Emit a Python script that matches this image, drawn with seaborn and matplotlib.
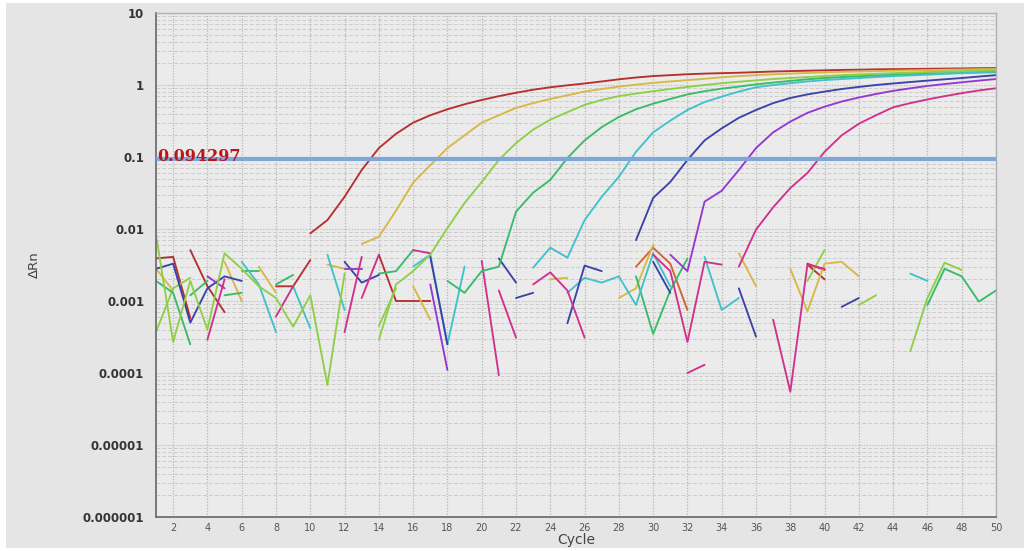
import numpy as np
import pandas as pd
import matplotlib
matplotlib.use("Agg")
import matplotlib.pyplot as plt
from matplotlib.patches import Rectangle
from matplotlib.ticker import FixedLocator, LogLocator, NullFormatter
import seaborn as sns

# ---------------------------------------------------------------- data
cycles = list(range(1, 51))
threshold = 0.094297

x_ticks = list(range(2, 51, 2))
y_ticks = [1e-6, 1e-5, 1e-4, 1e-3, 1e-2, 1e-1, 1, 10]
y_labels = ["0.000001", "0.00001", "0.0001", "0.001", "0.01", "0.1", "1", "10"]

# amplification curves: delta Rn per cycle (None = not plotted)
red_amp = [None] * 9 + [
    0.0087, 0.0133, 0.028, 0.066, 0.133, 0.21, 0.30, 0.38, 0.46, 0.54,
    0.62, 0.70, 0.78, 0.86, 0.93, 0.99, 1.05, 1.12, 1.20, 1.27,
    1.33, 1.37, 1.41, 1.44, 1.46, 1.48, 1.51, 1.54, 1.56, 1.58,
    1.60, 1.62, 1.63, 1.65, 1.66, 1.67, 1.68, 1.69, 1.70, 1.71, 1.72]
yellow_amp = [None] * 12 + [
    0.0062, 0.0078, 0.018, 0.044, 0.077, 0.133, 0.20, 0.30,
    0.38, 0.48, 0.56, 0.64, 0.72, 0.81, 0.88, 0.95, 1.01, 1.07,
    1.12, 1.17, 1.22, 1.28, 1.33, 1.37, 1.41, 1.44, 1.47, 1.50,
    1.52, 1.54, 1.56, 1.58, 1.60, 1.61, 1.63, 1.64, 1.66, 1.67]
lightgreen_amp = [
    0.0083, 0.00027, 0.0019, 0.0004, 0.0046, 0.0028, 0.0016, 0.0011, 0.00044, 0.0012,
    0.000068, 0.0024, None, 0.00029, 0.0017, 0.0026, 0.0044, 0.0103, 0.023, 0.045,
    0.091, 0.156, 0.24, 0.33, 0.42, 0.53, 0.62, 0.70, 0.76, 0.82,
    0.88, 0.94, 1.00, 1.06, 1.11, 1.16, 1.21, 1.25, 1.29, 1.33,
    1.37, 1.40, 1.43, 1.46, 1.49, 1.51, 1.54, 1.56, 1.58, 1.60]
green_amp = [None] * 17 + [
    0.0019, 0.0013, 0.0026,
    0.0030, 0.0174, 0.032, 0.048, 0.097, 0.17, 0.26, 0.36, 0.46, 0.55,
    0.64, 0.74, 0.82, 0.89, 0.95, 1.02, 1.08, 1.14, 1.20, 1.25,
    1.29, 1.32, 1.35, 1.38, 1.41, 1.43, 1.45, 1.47, 1.49, 1.50]
cyan_amp = [None] * 22 + [
    0.0029, 0.0055, 0.0040, 0.0133, 0.028, 0.053, 0.118, 0.22,
    0.32, 0.45, 0.58, 0.69, 0.81, 0.93, 1.00, 1.06, 1.12, 1.17,
    1.21, 1.25, 1.29, 1.33, 1.36, 1.39, 1.43, 1.46, 1.50, 1.53]
blue_amp = [None] * 28 + [
    0.007, 0.027,
    0.045, 0.091, 0.17, 0.25, 0.35, 0.45, 0.56, 0.66, 0.74, 0.81,
    0.88, 0.94, 1.00, 1.05, 1.10, 1.15, 1.20, 1.25, 1.31, 1.37]
purple_amp = [None] * 30 + [
    0.0044, 0.0026, 0.024, 0.034, 0.066, 0.133, 0.22, 0.31, 0.41, 0.50,
    0.59, 0.67, 0.75, 0.83, 0.90, 0.97, 1.03, 1.09, 1.15, 1.21]
magenta_amp = [None] * 34 + [
    0.0030, 0.0098, 0.020, 0.037, 0.060, 0.118,
    0.20, 0.29, 0.38, 0.49, 0.56, 0.63, 0.70, 0.77, 0.84, 0.90]

# baseline noise segments: (first cycle, delta Rn values)
red_noise = [(1, [0.0039, 0.0041, 0.00058]), (3, [0.0051, 0.0016, 0.0007]),
             (8, [0.0016, 0.0016, 0.0037]), (14, [0.0044, 0.001, 0.001, 0.001]),
             (39, [0.0032, 0.0020]), (39, [0.0033, 0.0027])]
orange_noise = [(29, [0.003, 0.0055, 0.0033, 0.00075])]
yellow_noise = [(1, [0.0028, 0.0014]), (5, [0.0035, 0.001]), (7, [0.003, 0.0013]),
                (11, [0.0032, 0.0028]), (16, [0.0016, 0.00055]), (24, [0.002, 0.0021]),
                (28, [0.0011, 0.0015, 0.006]), (35, [0.0046, 0.0016]),
                (38, [0.0028, 0.00072, 0.0033, 0.0035, 0.0022])]
lightgreen_noise = [(1, [0.00037, 0.0015, 0.0021]), (14, [0.00045, 0.0015]),
                    (39, [0.0019, 0.0051]), (42, [0.00088, 0.0012]),
                    (45, [0.0002, 0.0011, 0.0034, 0.0027])]
green_noise = [(1, [0.0019, 0.0013, 0.00025]), (3, [0.0012, 0.0019]),
               (5, [0.0012, 0.0013]), (6, [0.0026, 0.0026]), (8, [0.0017, 0.0023]),
               (14, [0.0024, 0.0026, 0.0051]), (29, [0.0022, 0.00035, 0.0014, 0.0039]),
               (46, [0.00088, 0.0028, 0.0022, 0.00098, 0.0014])]
cyan_noise = [(6, [0.0035, 0.0017, 0.00037]), (9, [0.0016, 0.00042]),
              (11, [0.0044, 0.00075]), (16, [0.003, 0.0044, 0.00025, 0.003]),
              (25, [0.0013, 0.0021, 0.0018, 0.0022, 0.00088, 0.0046, 0.0016]),
              (33, [0.0041, 0.00075, 0.0011]), (45, [0.0024, 0.0019])]
blue_noise = [(1, [0.0028, 0.0033, 0.0005, 0.0015, 0.0022, 0.0019]),
              (12, [0.0035, 0.0018, 0.0023]), (17, [0.0041, 0.00025]),
              (21, [0.0039, 0.0018]), (22, [0.0011, 0.0013]),
              (25, [0.00049, 0.0031, 0.0026]), (30, [0.0035, 0.0013]),
              (35, [0.0015, 0.00032]), (41, [0.00083, 0.0011])]
purple_noise = [(4, [0.0022, 0.0015]), (12, [0.0028, 0.0028]), (17, [0.0017, 0.00011])]
magenta_noise = [(4, [0.00029, 0.002]), (8, [0.00061, 0.0016]), (12, [0.00037, 0.0041]),
                 (13, [0.0011, 0.0044]), (16, [0.0051, 0.0046]), (20, [0.0036, 0.000093]),
                 (21, [0.0014, 0.00031]), (23, [0.0017, 0.0025, 0.0014, 0.00031]),
                 (30, [0.0044, 0.0026, 0.00027, 0.0035, 0.0032]), (32, [0.0001, 0.00013]),
                 (37, [0.00055, 0.000055, 0.0032, 0.0028])]

palette = {
    "red": "#b5302f", "orange": "#d6622c", "yellow": "#d8b845",
    "lightgreen": "#8fcf47", "green": "#38bb6a", "cyan": "#42c1ca",
    "blue": "#3b43a7", "purple": "#9538d0", "magenta": "#cf318d",
}

# ---------------------------------------------------------------- long-form table
rows = []
seg = [0]


def add_trace(colour, first_cycle, values):
    """Append one trace, splitting it wherever a value is missing."""
    seg[0] += 1
    for i, v in enumerate(values):
        if v is None:
            seg[0] += 1
            continue
        rows.append({"cycle": first_cycle + i, "dRn": v, "colour": colour,
                     "segment": seg[0]})


noise_sets = {"red": red_noise, "orange": orange_noise, "yellow": yellow_noise,
              "lightgreen": lightgreen_noise, "green": green_noise, "cyan": cyan_noise,
              "blue": blue_noise, "purple": purple_noise, "magenta": magenta_noise}
for colour, segments in noise_sets.items():
    for start, vals in segments:
        add_trace(colour, start, vals)
noise_df = pd.DataFrame(rows)

rows = []
amp_sets = {"red": red_amp, "yellow": yellow_amp, "lightgreen": lightgreen_amp,
            "green": green_amp, "cyan": cyan_amp, "blue": blue_amp,
            "purple": purple_amp, "magenta": magenta_amp}
for colour, vals in amp_sets.items():
    add_trace(colour, cycles[0], vals)
amp_df = pd.DataFrame(rows)

# ---------------------------------------------------------------- figure
sns.set_theme(style="white")
plt.rcParams["font.family"] = ["DejaVu Sans"]

W, H = 1028, 551
fig = plt.figure(figsize=(W / 100, H / 100), dpi=100, facecolor="white")
fig.add_artist(Rectangle((6 / W, 3 / H), (1024 - 6) / W, (548 - 3) / H,
                         transform=fig.transFigure, facecolor="#e5e5e5",
                         edgecolor="none", zorder=0))
ax = fig.add_axes([156 / W, 1 - 517 / H, (996 - 156) / W, (517 - 13) / H])
ax.set_facecolor("#ebebeb")
ax.set_yscale("log")

for df in (noise_df, amp_df):
    sns.lineplot(data=df, x="cycle", y="dRn", hue="colour", units="segment",
                 estimator=None, sort=False, palette=palette, legend=False,
                 linewidth=1.35, ax=ax)

ax.axhline(threshold, color="#7ea6d8", linewidth=3.0, zorder=5)
ax.text(1.1, threshold * 0.93, f"{threshold:.6f}", color="#b8161b",
        family="DejaVu Serif", fontweight="bold", fontsize=11.5,
        va="baseline", ha="left", zorder=6)

ax.set_xlim(1, 50)
ax.set_ylim(1e-6, 10)
ax.set_xticks(x_ticks)
ax.set_xticklabels([str(t) for t in x_ticks])
ax.yaxis.set_major_locator(FixedLocator(y_ticks))
ax.set_yticklabels(y_labels)
ax.yaxis.set_minor_locator(LogLocator(base=10, subs=np.arange(2, 10), numticks=20))
ax.yaxis.set_minor_formatter(NullFormatter())

ax.grid(which="major", axis="x", color="#b4b4b4", linestyle=(0, (1, 1.3)), linewidth=0.9)
ax.grid(which="major", axis="y", color="#bdbdbd", linestyle=(0, (1, 1.3)), linewidth=0.9)
ax.grid(which="minor", axis="y", color="#cdcdcd", linestyle=(0, (4, 2)), linewidth=0.7)
ax.set_axisbelow(True)

ax.tick_params(axis="x", which="major", length=0, pad=4, labelsize=7, labelcolor="#555555")
ax.tick_params(axis="y", which="major", length=3, width=1, color="#666666", pad=5.5,
               labelsize=8.5, labelcolor="#333333")
ax.tick_params(axis="y", which="minor", length=0)
for lbl in ax.get_yticklabels():
    lbl.set_fontweight("bold")

for side in ("left", "bottom"):
    ax.spines[side].set_color("#707070")
    ax.spines[side].set_linewidth(1.3)
for side in ("top", "right"):
    ax.spines[side].set_color("#b0b0b0")
    ax.spines[side].set_linewidth(1.0)

ax.set_xlabel("Cycle", fontsize=10, color="#444444")
ax.xaxis.set_label_coords(0.5, (517 - 533) / 504)
ax.set_ylabel("ΔRn", fontsize=9.5, color="#444444")
ax.yaxis.set_label_coords((41 - 156) / 840, 0.5)

fig.savefig("out.png", dpi=100, facecolor=fig.get_facecolor())
